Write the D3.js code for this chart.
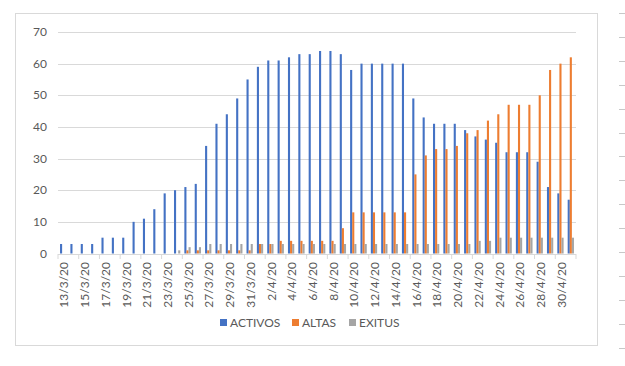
<!DOCTYPE html>
<html><head><meta charset="utf-8">
<script src="https://cdn.jsdelivr.net/npm/d3@7"></script>
<style>body{margin:0;background:#fff;}svg{display:block;font-family:Lato,"Open Sans",sans-serif;}</style>
</head><body><div id="chart"></div>
<script>
const dates = ["13/3/20","14/3/20","15/3/20","16/3/20","17/3/20","18/3/20","19/3/20","20/3/20","21/3/20","22/3/20","23/3/20","24/3/20","25/3/20","26/3/20","27/3/20","28/3/20","29/3/20","30/3/20","31/3/20","1/4/20","2/4/20","3/4/20","4/4/20","5/4/20","6/4/20","7/4/20","8/4/20","9/4/20","10/4/20","11/4/20","12/4/20","13/4/20","14/4/20","15/4/20","16/4/20","17/4/20","18/4/20","19/4/20","20/4/20","21/4/20","22/4/20","23/4/20","24/4/20","25/4/20","26/4/20","27/4/20","28/4/20","29/4/20","30/4/20","1/5/20"];
const activos = [3,3,3,3,5,5,5,10,11,14,19,20,21,22,34,41,44,49,55,59,61,61,62,63,63,64,64,63,58,60,60,60,60,60,49,43,41,41,41,39,37,36,35,32,32,32,29,21,19,17];
const altas = [0,0,0,0,0,0,0,0,0,0,0,0,1,1,1,1,1,1,1,3,3,4,4,4,4,4,4,8,13,13,13,13,13,13,25,31,33,33,34,38,39,42,44,47,47,47,50,58,60,62];
const exitus = [0,0,0,0,0,0,0,0,0,0,0,1,2,2,3,3,3,3,3,3,3,3,3,3,3,3,3,3,3,3,3,3,3,3,3,3,3,3,3,3,4,4,5,5,5,5,5,5,5,5];
const seriesNames = ["ACTIVOS","ALTAS","EXITUS"];
const seriesColors = ["#4472C4","#ED7D31","#A5A5A5"];
const yTicks = [0,10,20,30,40,50,60,70];

const W = 625, H = 366;
const svg = d3.select("#chart").append("svg").attr("width", W).attr("height", H);

// outer chart frame
svg.append("rect").attr("x",15.5).attr("y",13.5).attr("width",582).attr("height",332)
  .attr("fill","#fff").attr("stroke","#D9D9D9").attr("stroke-width",1);

// right-side sheet marks
const marks = d3.range(13, 350, 23.9);
svg.selectAll("line.mark").data(marks).enter().append("line")
  .attr("x1",619).attr("x2",625).attr("y1",d=>Math.round(d)+0.5).attr("y2",d=>Math.round(d)+0.5)
  .attr("stroke","#C8C8C8").attr("stroke-width",1);

const x0 = d3.scaleBand().domain(dates).range([58, 576]).paddingInner(0).paddingOuter(0);
const x1 = d3.scaleBand().domain(seriesNames).range([0, 6.3]);
const groupOffset = (x0.bandwidth() - 6.3) / 2;
const y = d3.scaleLinear().domain([0,70]).range([253.5, 32]);

// gridlines
svg.selectAll("line.grid").data(yTicks).enter().append("line")
  .attr("x1",58).attr("x2",576).attr("y1",d=>Math.round(y(d))+0.5).attr("y2",d=>Math.round(y(d))+0.5)
  .attr("stroke","#D9D9D9").attr("stroke-width",1);

// y labels
svg.selectAll("text.ytick").data(yTicks).enter().append("text")
  .attr("x",47).attr("y",d=>y(d)).attr("dy","0.35em").attr("text-anchor","end")
  .attr("font-size","12px").attr("fill","#595959").text(d=>d);

// bars
const series = [activos, altas, exitus];
series.forEach((vals, si) => {
  svg.append("g").selectAll("rect").data(vals).enter().append("rect")
    .attr("x",(d,i)=>x0(dates[i]) + groupOffset + x1(seriesNames[si]))
    .attr("width", x1.bandwidth())
    .attr("y", d=>y(d))
    .attr("height", d=>y(0)-y(d))
    .attr("fill", seriesColors[si]);
});

// x axis line + ticks
svg.append("line").attr("x1",58).attr("x2",576).attr("y1",Math.round(y(0))+0.5).attr("y2",Math.round(y(0))+0.5)
  .attr("stroke","#D9D9D9");
const tickIdx = d3.range(0, dates.length+1, 2);
svg.selectAll("line.xt").data(tickIdx).enter().append("line")
  .attr("x1",i=>58 + i*x0.step()).attr("x2",i=>58 + i*x0.step())
  .attr("y1",Math.round(y(0))).attr("y2",Math.round(y(0))+5)
  .attr("stroke","#D9D9D9");

// x labels
const labelIdx = d3.range(0, dates.length, 2);
svg.selectAll("text.xl").data(labelIdx).enter().append("text")
  .attr("transform", i=>`translate(${x0(dates[i]) + x0.bandwidth()/2 + 1},262) rotate(-90)`)
  .attr("text-anchor","end").attr("dy","0.35em")
  .attr("font-size","12px").attr("fill","#595959").text(i=>dates[i]);

// legend
const legX = [220, 292, 349];
seriesNames.forEach((n, i) => {
  svg.append("rect").attr("x",legX[i]).attr("y",319).attr("width",7).attr("height",7).attr("fill",seriesColors[i]);
  svg.append("text").attr("x",legX[i]+10).attr("y",323).attr("dy","0.35em")
    .attr("font-size","12px").attr("fill","#595959").text(n);
});
</script></body></html>
